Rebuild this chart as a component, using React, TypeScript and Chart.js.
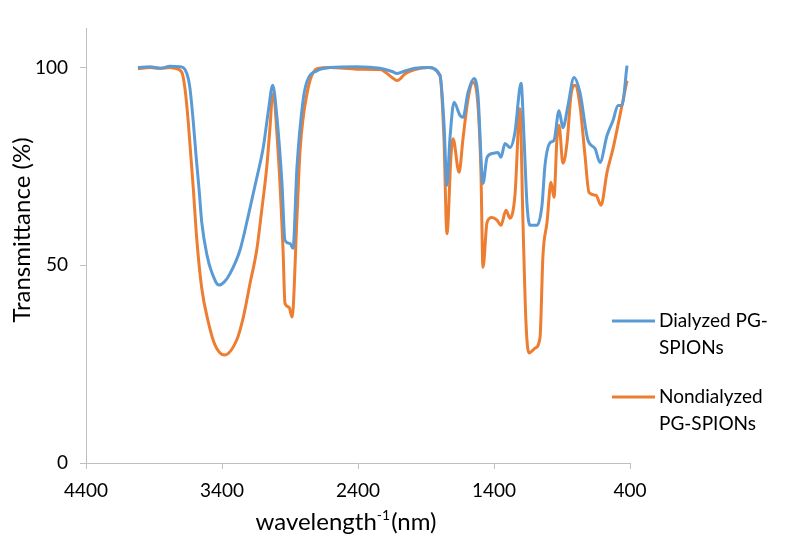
import React, { useEffect, useRef } from "react";
import { Chart, registerables } from "chart.js";

Chart.register(...registerables);

const dialyzedX = [4018, 3929, 3856, 3782, 3709, 3672, 3648, 3635, 3611, 3591, 3569, 3549, 3510, 3476, 3422, 3383, 3341, 3268, 3207, 3145, 3096, 3059, 3027, 2996, 2959, 2937, 2900, 2878, 2849, 2804, 2775, 2701, 2606, 2407, 2238, 2150, 2113, 2050, 1981, 1885, 1797, 1768, 1746, 1724, 1694, 1650, 1628, 1591, 1547, 1518, 1481, 1451, 1407, 1371, 1349, 1319, 1282, 1246, 1201, 1179, 1157, 1135, 1084, 1047, 1025, 988, 959, 922, 893, 856, 812, 768, 709, 657, 621, 569, 525, 488, 459, 422];
const dialyzedY = [100, 100.2, 99.8, 100.3, 100.2, 99.5, 97.2, 94.6, 86.2, 77.8, 69.4, 60.9, 52.5, 48.3, 45, 45.8, 47.9, 53.8, 62.5, 72, 79.9, 89.1, 95.5, 87.4, 70.7, 56.3, 55.5, 54.3, 74.7, 91.7, 96.5, 99.2, 100, 100.2, 99.8, 99, 98.5, 99.2, 99.8, 100, 98, 86, 70.2, 82, 91.2, 87.9, 87.4, 93.7, 97.2, 93, 70.7, 77.3, 78.3, 78.5, 77.3, 80.8, 79.8, 83.6, 96, 82, 65.2, 60.1, 60.1, 65.2, 75.3, 81, 81.6, 89.1, 84.8, 90.4, 97.5, 93.7, 81.6, 79.5, 76, 82.8, 86.6, 90.4, 90.5, 100.5];

const nondialyzedX = [4018, 3929, 3856, 3782, 3746, 3696, 3672, 3648, 3611, 3586, 3549, 3501, 3451, 3383, 3292, 3243, 3194, 3145, 3108, 3071, 3047, 3027, 2988, 2951, 2937, 2907, 2885, 2849, 2826, 2775, 2701, 2606, 2407, 2238, 2150, 2113, 2050, 1981, 1885, 1797, 1768, 1746, 1716, 1701, 1657, 1628, 1591, 1554, 1518, 1496, 1481, 1451, 1415, 1378, 1349, 1312, 1282, 1246, 1209, 1187, 1165, 1143, 1099, 1062, 1040, 1010, 981, 959, 937, 922, 893, 863, 834, 804, 768, 731, 701, 650, 613, 569, 525, 474, 422];
const nondialyzedY = [99.7, 100, 99.8, 100, 99.8, 98.8, 94.6, 86.2, 69.4, 56.8, 44.2, 35.7, 29.8, 27.3, 31.1, 36.9, 45.4, 53.8, 63.9, 74.8, 84.9, 93.3, 79, 53.8, 40.4, 39.4, 36.9, 62, 79, 93.4, 99.7, 100, 99.6, 99.5, 97.5, 96.7, 98.5, 99.5, 100, 98, 82, 58, 77.8, 82, 73.5, 82, 92, 96.2, 90.4, 73.5, 49.5, 60.9, 62.1, 61.4, 60.1, 63.9, 61.9, 67.7, 89.6, 60.9, 35.6, 27.8, 29, 31.6, 52.5, 60.9, 71, 67.2, 82, 85.4, 75.8, 81, 93, 95.5, 90.4, 77.8, 68.4, 67.7, 65.2, 73.5, 79.5, 87.9, 96.7];

const seriesNames = [["Dialyzed PG-", "SPIONs"], ["Nondialyzed", "PG-SPIONs"]];
const yTicks = [0, 50, 100];
const xTitleParts = ["wavelength", "-1", "(nm)"];
const yTitle = "Transmittance (%)";

const BLUE = "#5B9BD5";
const ORANGE = "#ED7D31";
const FONT = "Lato, 'Open Sans', sans-serif";
const AXIS = "#bfbfbf";

const toPoints = (xs: number[], ys: number[]) => xs.map((x, i) => ({ x, y: ys[i] }));

const decorPlugin = {
  id: "decor",
  afterDraw(chart: any) {
    const ctx = chart.ctx;
    ctx.save();
    // legend
    const items = [
      { color: BLUE, lines: seriesNames[0], y: 321 },
      { color: ORANGE, lines: seriesNames[1], y: 397 },
    ];
    ctx.font = `19px ${FONT}`;
    ctx.textBaseline = "middle";
    ctx.textAlign = "left";
    items.forEach((it) => {
      ctx.strokeStyle = it.color;
      ctx.lineWidth = 3;
      ctx.beginPath();
      ctx.moveTo(612, it.y);
      ctx.lineTo(655, it.y);
      ctx.stroke();
      ctx.fillStyle = "#000";
      it.lines.forEach((t: string, i: number) => ctx.fillText(t, 659, it.y + i * 27));
    });
    // y title
    ctx.fillStyle = "#000";
    ctx.font = `24px ${FONT}`;
    ctx.save();
    ctx.translate(22, 230);
    ctx.rotate(-Math.PI / 2);
    ctx.textAlign = "center";
    ctx.textBaseline = "middle";
    ctx.fillText(yTitle, 0, 0);
    ctx.restore();
    // x title with superscript
    const big = `24px ${FONT}`;
    const small = `14px ${FONT}`;
    ctx.font = big;
    const w1 = ctx.measureText(xTitleParts[0]).width;
    const w3 = ctx.measureText(xTitleParts[2]).width;
    ctx.font = small;
    const w2 = ctx.measureText(xTitleParts[1]).width;
    const total = w1 + w2 + w3 + 1;
    let x = 346 - total / 2;
    const base = 530;
    ctx.textAlign = "left";
    ctx.textBaseline = "alphabetic";
    ctx.font = big;
    ctx.fillText(xTitleParts[0], x, base);
    x += w1;
    ctx.font = small;
    ctx.fillText(xTitleParts[1], x, base - 10);
    x += w2 + 1;
    ctx.font = big;
    ctx.fillText(xTitleParts[2], x, base);
    ctx.restore();
  },
};

export default function App() {
  const ref = useRef<HTMLCanvasElement>(null);
  useEffect(() => {
    document.body.style.margin = "0";
    const chart = new Chart(ref.current!, {
      type: "line",
      data: {
        datasets: [
          {
            label: seriesNames[0].join(""),
            data: toPoints(dialyzedX, dialyzedY),
            borderColor: BLUE,
            borderWidth: 3,
            pointRadius: 0,
            cubicInterpolationMode: "monotone",
          },
          {
            label: seriesNames[1].join(" "),
            data: toPoints(nondialyzedX, nondialyzedY),
            borderColor: ORANGE,
            borderWidth: 3,
            pointRadius: 0,
            cubicInterpolationMode: "monotone",
          },
        ],
      },
      options: {
        animation: false,
        responsive: false,
        maintainAspectRatio: false,
        layout: { padding: { left: 0, top: 28, right: 170, bottom: 0 } },
        plugins: { legend: { display: false }, tooltip: { enabled: false } },
        scales: {
          x: {
            type: "linear",
            min: 400,
            max: 4400,
            reverse: true,
            afterFit: (s: any) => { s.height = 76; },
            ticks: { stepSize: 1000, color: "#000", padding: 10, font: { family: FONT, size: 19 }, callback: (v: any) => String(v) },
            grid: { drawOnChartArea: false, drawTicks: true, tickLength: 6, color: AXIS },
            border: { display: true, color: AXIS },
          },
          y: {
            type: "linear",
            min: 0,
            max: 110,
            afterFit: (s: any) => { s.width = 86; },
            afterBuildTicks: (s: any) => { s.ticks = yTicks.map((v) => ({ value: v })); },
            ticks: { color: "#000", padding: 12, font: { family: FONT, size: 19 }, callback: (v: any) => String(v) },
            grid: { drawOnChartArea: false, drawTicks: true, tickLength: 6, color: AXIS },
            border: { display: true, color: AXIS },
          },
        },
      },
      plugins: [decorPlugin],
    } as any);
    return () => chart.destroy();
  }, []);
  return (
    <div style={{ width: 800, height: 539 }}>
      <canvas ref={ref} width={800} height={539} style={{ display: "block" }} />
    </div>
  );
}
